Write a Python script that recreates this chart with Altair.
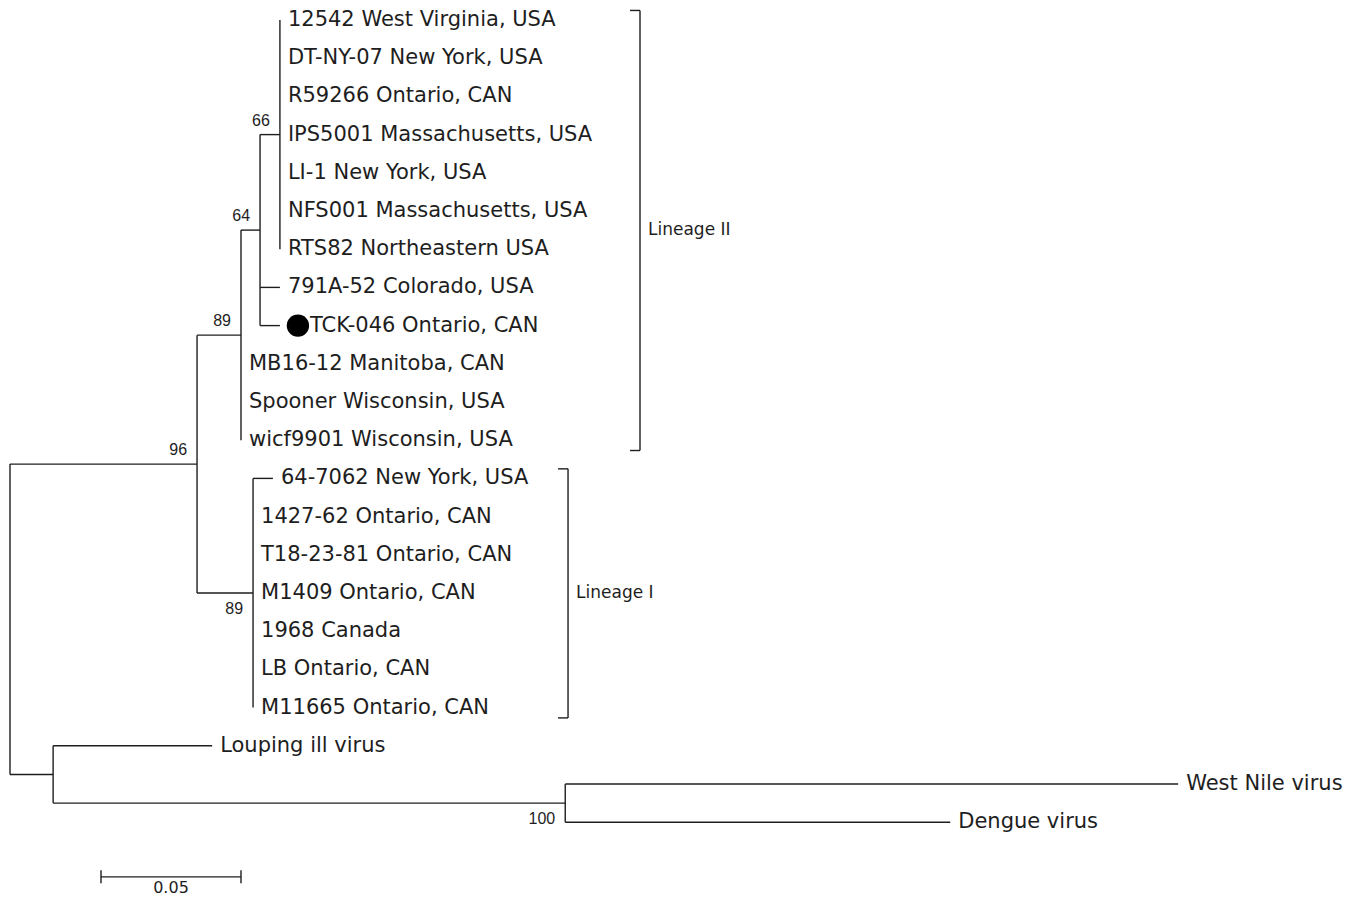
import altair as alt
import pandas as pd

# ---------------- data ----------------
# leaves, top to bottom
leaf_labels = [
    "12542 West Virginia, USA", "DT-NY-07 New York, USA", "R59266 Ontario, CAN",
    "IPS5001 Massachusetts, USA", "LI-1 New York, USA", "NFS001 Massachusetts, USA",
    "RTS82 Northeastern USA", "791A-52 Colorado, USA", "TCK-046 Ontario, CAN",
    "MB16-12 Manitoba, CAN", "Spooner Wisconsin, USA", "wicf9901 Wisconsin, USA",
    "64-7062 New York, USA", "1427-62 Ontario, CAN", "T18-23-81 Ontario, CAN",
    "M1409 Ontario, CAN", "1968 Canada", "LB Ontario, CAN", "M11665 Ontario, CAN",
    "Louping ill virus", "West Nile virus", "Dengue virus",
]
leaf_parent = ["N66"] * 7 + ["N64", "N64"] + ["L2"] * 3 + ["L1"] * 7 + ["OUT", "MOS", "MOS"]
leaf_branch = [0, 0, 0, 0, 0, 0, 0, 0.0071, 0.0071, 0, 0, 0,
               0.0071, 0, 0, 0, 0, 0, 0, 0.0568, 0.2189, 0.1375]
highlighted = ["TCK-046 Ontario, CAN"]

# internal nodes
node_ids = ["ROOT", "TBE", "L2", "N64", "N66", "L1", "OUT", "MOS"]
node_parent = [None, "ROOT", "TBE", "L2", "N64", "TBE", "ROOT", "OUT"]
node_branch = [0, 0.0668, 0.0157, 0.0068, 0.0071, 0.0200, 0.0154, 0.1829]
node_bootstrap = [None, 96, 89, 64, 66, 89, None, 100]

# lineage brackets (first and last leaf row)
lineage_names = ["Lineage II", "Lineage I"]
lineage_first = [0, 12]
lineage_last = [11, 18]

scale_bar_value = 0.05

# ---------------- layout constants ----------------
PX = 2800.0            # pixels per substitution unit
ROW = 38.2             # pixels per row
W, H = 1337, 888
X0, Y0 = 2.0, 12.0     # plot offset of root / first row
bracket_x = {"Lineage II": 0.2250, "Lineage I": 0.1993}
bar_x0, bar_row = 0.0325, 22.43
LINE = "#1e1e1e"
TXT = "#1e1e1e"
LEAF_FONT = "DejaVu Sans"
LEAF_SIZE = 21

# ---------------- tree geometry ----------------
parent = dict(zip(node_ids, node_parent))
blen = dict(zip(node_ids, node_branch))
for n, p, b in zip(leaf_labels, leaf_parent, leaf_branch):
    parent[n] = p
    blen[n] = b
children = {}
for n in node_ids[1:] + leaf_labels:
    children.setdefault(parent[n], []).append(n)

xpos = {}
def set_x(n, acc):
    xpos[n] = acc
    for c in children.get(n, []):
        set_x(c, acc + blen[c])
set_x("ROOT", 0.0)

ypos = {n: i for i, n in enumerate(leaf_labels)}
def set_y(n):
    if n in ypos:
        return ypos[n]
    ys = [set_y(c) for c in children[n]]
    ypos[n] = (min(ys) + max(ys)) / 2
    return ypos[n]
set_y("ROOT")

horiz = pd.DataFrame([
    {"x0": xpos[parent[n]], "x1": xpos[n], "y": ypos[n]}
    for n in node_ids[1:] + leaf_labels
])
vert = pd.DataFrame([
    {"x": xpos[n], "y0": min(ypos[c] for c in children[n]),
     "y1": max(ypos[c] for c in children[n])}
    for n in node_ids
])
leaves = pd.DataFrame({"label": leaf_labels,
                       "x": [xpos[n] for n in leaf_labels],
                       "y": [ypos[n] for n in leaf_labels]})
leaves["hl"] = leaves["label"].isin(highlighted)

boot_rows = []
for n, b in zip(node_ids, node_bootstrap):
    if b is None:
        continue
    sib_y = [ypos[s] for s in children[parent[n]]]
    boot_rows.append({"text": str(b), "x": xpos[n], "y": ypos[n],
                      "below": ypos[n] == max(sib_y)})
boot = pd.DataFrame(boot_rows)

br_rows, tick_rows, lab_rows = [], [], []
for name, f, l in zip(lineage_names, lineage_first, lineage_last):
    bx = bracket_x[name]
    y0, y1 = f - 0.25, l + 0.27
    br_rows.append({"x": bx, "y0": y0, "y1": y1})
    tick_rows += [{"x0": bx - 10 / PX, "x1": bx, "y": y0},
                  {"x0": bx - 10 / PX, "x1": bx, "y": y1}]
    lab_rows.append({"text": name, "x": bx, "y": (y0 + y1) / 2})
brackets = pd.DataFrame(br_rows)
bticks = pd.DataFrame(tick_rows)
blabels = pd.DataFrame(lab_rows)

bar = pd.DataFrame([{"x0": bar_x0, "x1": bar_x0 + scale_bar_value, "y": bar_row}])
bar_ends = pd.DataFrame([{"x": bar_x0, "y0": bar_row - 0.17, "y1": bar_row + 0.17},
                         {"x": bar_x0 + scale_bar_value, "y0": bar_row - 0.17, "y1": bar_row + 0.17}])
bar_lab = pd.DataFrame([{"text": f"{scale_bar_value:.2f}",
                         "x": bar_x0 + scale_bar_value / 2, "y": bar_row + 0.08}])

# ---------------- scales ----------------
xs = alt.Scale(domain=[-X0 / PX, (W - X0) / PX], nice=False, zero=False)
ys = alt.Scale(domain=[-Y0 / ROW, (H - Y0) / ROW], nice=False, zero=False, reverse=True)

def X(f):
    return alt.X(f, type="quantitative", scale=xs, axis=None)

def Y(f):
    return alt.Y(f, type="quantitative", scale=ys, axis=None)

rule = dict(color=LINE, strokeWidth=1.4)

h_layer = alt.Chart(horiz).mark_rule(**rule).encode(x=X("x0"), x2="x1", y=Y("y"))
v_layer = alt.Chart(vert).mark_rule(**rule).encode(x=X("x"), y=Y("y0"), y2="y1")

leaf_text = alt.Chart(leaves).transform_filter("!datum.hl").mark_text(
    align="left", baseline="middle", dx=8, font=LEAF_FONT, fontSize=LEAF_SIZE, color=TXT
).encode(x=X("x"), y=Y("y"), text="label:N")
hl_text = alt.Chart(leaves).transform_filter("datum.hl").mark_text(
    align="left", baseline="middle", dx=30, font=LEAF_FONT, fontSize=LEAF_SIZE, color=TXT
).encode(x=X("x"), y=Y("y"), text="label:N")
hl_dot = alt.Chart(leaves).transform_filter("datum.hl").mark_point(
    shape="circle", filled=True, size=500, color="#000000", opacity=1, xOffset=18
).encode(x=X("x"), y=Y("y"))

boot_above = alt.Chart(boot).transform_filter("!datum.below").mark_text(
    align="right", baseline="middle", dx=-10, dy=-14, font="Liberation Sans", fontSize=16, color=TXT
).encode(x=X("x"), y=Y("y"), text="text:N")
boot_below = alt.Chart(boot).transform_filter("datum.below").mark_text(
    align="right", baseline="middle", dx=-10, dy=16, font="Liberation Sans", fontSize=16, color=TXT
).encode(x=X("x"), y=Y("y"), text="text:N")

br_layer = alt.Chart(brackets).mark_rule(**rule).encode(x=X("x"), y=Y("y0"), y2="y1")
bt_layer = alt.Chart(bticks).mark_rule(**rule).encode(x=X("x0"), x2="x1", y=Y("y"))
bl_layer = alt.Chart(blabels).mark_text(
    align="left", baseline="middle", dx=8, font="DejaVu Sans", fontSize=17, color=TXT
).encode(x=X("x"), y=Y("y"), text="text:N")

bar_layer = alt.Chart(bar).mark_rule(**rule).encode(x=X("x0"), x2="x1", y=Y("y"))
bar_end_layer = alt.Chart(bar_ends).mark_rule(**rule).encode(x=X("x"), y=Y("y0"), y2="y1")
bar_text = alt.Chart(bar_lab).mark_text(
    align="center", baseline="top", font="DejaVu Sans", fontSize=16, color=TXT
).encode(x=X("x"), y=Y("y"), text="text:N")

chart = alt.layer(
    h_layer, v_layer, leaf_text, hl_text, hl_dot, boot_above, boot_below,
    br_layer, bt_layer, bl_layer, bar_layer, bar_end_layer, bar_text,
).properties(
    width=W, height=H,
    autosize=alt.AutoSizeParams(type="fit", contains="padding"),
    padding=0,
    background="white",
).configure_view(strokeWidth=0)

chart.save("out.html", embed_options={"renderer": "svg", "actions": False})
